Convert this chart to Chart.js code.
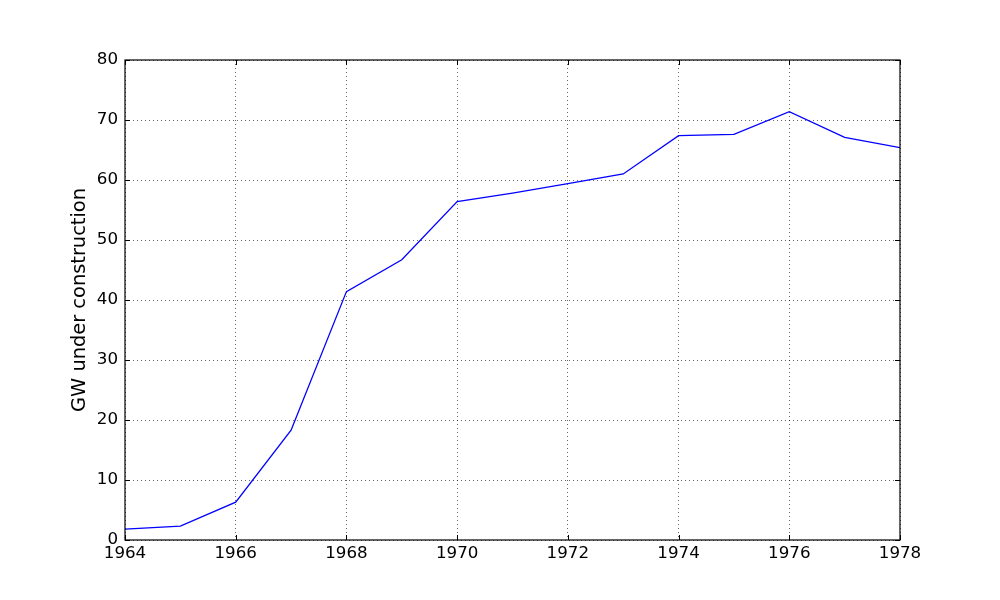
<!DOCTYPE html>
<html>
<head>
<meta charset="utf-8">
<script src="https://cdn.jsdelivr.net/npm/chart.js@4/dist/chart.umd.min.js"></script>
<style>
html,body{margin:0;padding:0;background:#fff;}
#c{display:block;}
</style>
</head>
<body>
<canvas id="c" width="1000" height="600"></canvas>
<script>
const years = [1964,1965,1966,1967,1968,1969,1970,1971,1972,1973,1974,1975,1976,1977,1978];
const gw = [1.8,2.3,6.3,18.3,41.4,46.7,56.4,57.8,59.4,61.0,67.4,67.6,71.4,67.1,65.4];
const yTicks = [0,10,20,30,40,50,60,70,80];
const xTicks = [1964,1966,1968,1970,1972,1974,1976,1978];
const yTitle = "GW under construction";

const FONT = "'DejaVu Sans', sans-serif";

const innerTicks = {
  id: 'innerTicks',
  afterDraw(chart) {
    const ctx = chart.ctx, a = chart.chartArea;
    const xs = chart.scales.x, ys = chart.scales.y;
    const L = 5;
    ctx.save();
    ctx.strokeStyle = '#000';
    ctx.lineWidth = 1;
    xTicks.forEach(v => {
      const px = Math.round(xs.getPixelForValue(v)) + 0.5;
      ctx.beginPath();
      ctx.moveTo(px, a.bottom); ctx.lineTo(px, a.bottom - L);
      ctx.moveTo(px, a.top); ctx.lineTo(px, a.top + L);
      ctx.stroke();
    });
    yTicks.forEach(v => {
      const py = Math.round(ys.getPixelForValue(v)) + 0.5;
      ctx.beginPath();
      ctx.moveTo(a.left, py); ctx.lineTo(a.left + L, py);
      ctx.moveTo(a.right, py); ctx.lineTo(a.right - L, py);
      ctx.stroke();
    });
    ctx.lineWidth = 1.2;
    ctx.strokeRect(a.left, a.top, a.right - a.left, a.bottom - a.top);
    ctx.restore();
  }
};

new Chart(document.getElementById('c'), {
  type: 'line',
  data: {
    datasets: [{
      data: years.map((y, i) => ({x: y, y: gw[i]})),
      borderColor: '#0000ff',
      borderWidth: 1.3,
      pointRadius: 0,
      tension: 0,
      fill: false
    }]
  },
  options: {
    responsive: false,
    animation: false,
    layout: {padding: {left: 0, right: 100, top: 60, bottom: 0}},
    plugins: {legend: {display: false}, tooltip: {enabled: false}},
    scales: {
      x: {
        type: 'linear',
        min: 1964, max: 1978,
        afterBuildTicks: s => { s.ticks = xTicks.map(v => ({value: v})); },
        afterFit: s => { s.height = 60; },
        grid: {color: 'rgba(0,0,0,0.75)', lineWidth: 0.8, drawTicks: false},
        border: {display: false, dash: [1, 3]},
        ticks: {
          color: '#000', font: {family: FONT, size: 16.7}, padding: 4,
          maxRotation: 0, autoSkip: false,
          callback: v => String(v)
        }
      },
      y: {
        min: 0, max: 80,
        afterBuildTicks: s => { s.ticks = yTicks.map(v => ({value: v})); },
        afterFit: s => { s.width = 125; },
        grid: {color: 'rgba(0,0,0,0.75)', lineWidth: 0.8, drawTicks: false},
        border: {display: false, dash: [1, 3]},
        ticks: {
          color: '#000', font: {family: FONT, size: 16.7}, padding: 7,
          autoSkip: false,
          callback: v => String(v)
        },
        title: {
          display: true, text: yTitle, color: '#000',
          font: {family: FONT, size: 19.4},
          padding: {top: 68, bottom: 0}
        }
      }
    }
  },
  plugins: [innerTicks]
});
</script>
</body>
</html>
